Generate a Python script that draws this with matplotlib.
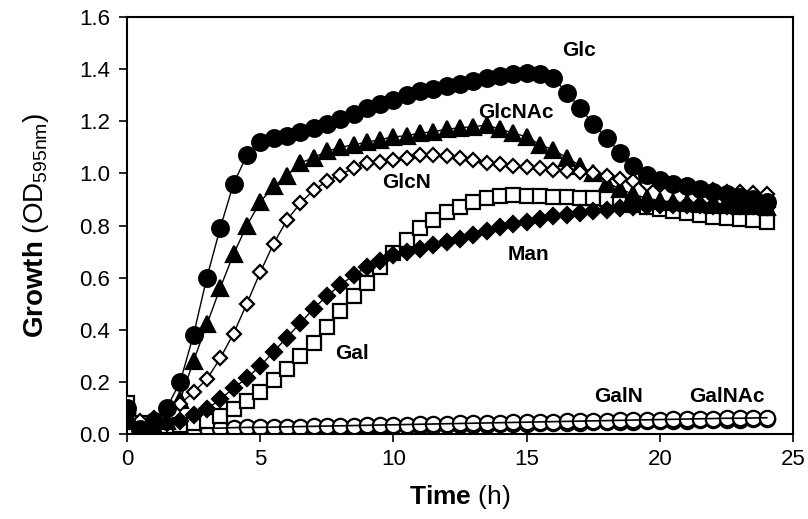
import numpy as np
import matplotlib
matplotlib.use("Agg")
import matplotlib.pyplot as plt

plt.rcParams['font.family'] = ['Liberation Sans Narrow', 'Liberation Sans', 'DejaVu Sans']
plt.rcParams['mathtext.fontset'] = 'custom'
plt.rcParams['mathtext.rm'] = 'Liberation Sans'
plt.rcParams['mathtext.bf'] = 'Liberation Sans:bold'

time_h = np.arange(0, 24.5, 0.5)

glc = [0.10, 0.02, 0.05, 0.10, 0.20, 0.38, 0.60, 0.79, 0.96, 1.07,
       1.12, 1.135, 1.145, 1.16, 1.175, 1.19, 1.21, 1.23, 1.25, 1.265,
       1.28, 1.30, 1.315, 1.325, 1.335, 1.345, 1.355, 1.365, 1.375, 1.38,
       1.385, 1.38, 1.365, 1.31, 1.25, 1.19, 1.135, 1.08, 1.03, 0.995,
       0.975, 0.96, 0.95, 0.94, 0.93, 0.92, 0.91, 0.90, 0.89]
glcnac = [0.05, 0.03, 0.03, 0.05, 0.13, 0.28, 0.42, 0.56, 0.69, 0.80,
          0.89, 0.95, 0.99, 1.04, 1.06, 1.085, 1.10, 1.11, 1.12, 1.13,
          1.14, 1.145, 1.155, 1.16, 1.17, 1.175, 1.18, 1.185, 1.17, 1.155,
          1.14, 1.11, 1.09, 1.06, 1.03, 1.00, 0.965, 0.94, 0.92, 0.905,
          0.895, 0.89, 0.885, 0.882, 0.88, 0.878, 0.876, 0.874, 0.872]
glcn = [0.10, 0.05, 0.06, 0.085, 0.115, 0.16, 0.21, 0.29, 0.385, 0.50,
        0.62, 0.73, 0.82, 0.885, 0.935, 0.97, 0.995, 1.02, 1.04, 1.045,
        1.05, 1.06, 1.07, 1.07, 1.065, 1.06, 1.05, 1.04, 1.035, 1.03,
        1.025, 1.02, 1.015, 1.01, 1.005, 1.0, 0.99, 0.98, 0.97, 0.96,
        0.955, 0.95, 0.945, 0.94, 0.935, 0.93, 0.93, 0.925, 0.92]
man = [0.08, 0.03, 0.03, 0.04, 0.05, 0.073, 0.095, 0.133, 0.175, 0.215,
       0.26, 0.315, 0.37, 0.425, 0.48, 0.53, 0.57, 0.61, 0.64, 0.665,
       0.685, 0.70, 0.71, 0.725, 0.738, 0.75, 0.764, 0.78, 0.795, 0.805,
       0.815, 0.825, 0.835, 0.842, 0.848, 0.855, 0.86, 0.866, 0.872, 0.876,
       0.878, 0.878, 0.878, 0.877, 0.876, 0.875, 0.874, 0.873, 0.872]
gal = [0.12, 0.04, 0.03, 0.03, 0.035, 0.04, 0.05, 0.07, 0.095, 0.125,
       0.16, 0.205, 0.25, 0.30, 0.35, 0.41, 0.47, 0.53, 0.58, 0.64,
       0.695, 0.745, 0.79, 0.82, 0.85, 0.872, 0.89, 0.905, 0.912, 0.917,
       0.915, 0.912, 0.91, 0.91, 0.907, 0.905, 0.90, 0.89, 0.88, 0.87,
       0.862, 0.855, 0.848, 0.84, 0.834, 0.83, 0.825, 0.82, 0.815]
galnac = [0.09, 0.02, 0.02, 0.02, 0.02, 0.02, 0.022, 0.022, 0.024, 0.025,
          0.025, 0.026, 0.027, 0.028, 0.029, 0.03, 0.031, 0.032, 0.033, 0.034,
          0.035, 0.036, 0.037, 0.038, 0.039, 0.04, 0.041, 0.042, 0.043, 0.044,
          0.045, 0.046, 0.047, 0.048, 0.049, 0.05, 0.051, 0.052, 0.053, 0.054,
          0.055, 0.056, 0.057, 0.058, 0.059, 0.06, 0.06, 0.061, 0.062]
galn = [0.08, 0.015, 0.012, 0.012, 0.013, 0.014, 0.015, 0.016, 0.017, 0.018,
        0.019, 0.02, 0.021, 0.022, 0.023, 0.024, 0.025, 0.026, 0.027, 0.028,
        0.029, 0.03, 0.031, 0.032, 0.033, 0.034, 0.035, 0.036, 0.037, 0.038,
        0.039, 0.04, 0.041, 0.042, 0.043, 0.044, 0.045, 0.046, 0.047, 0.048,
        0.049, 0.05, 0.051, 0.052, 0.053, 0.054, 0.055, 0.056, 0.057]

labels = ["Glc", "GlcNAc", "GlcN", "Man", "Gal", "GalN", "GalNAc"]
label_pos = [(16.95, 1.47), (14.6, 1.235), (10.5, 0.967), (15.05, 0.687),
             (8.45, 0.307), (18.45, 0.142), (22.5, 0.142)]

fig = plt.figure(figsize=(8.08, 5.19), dpi=100)
ax = fig.add_axes([0.157, 0.164, 0.825, 0.803])

lk = dict(color='black', lw=1.0, markeredgecolor='black', markeredgewidth=1.6)
ax.plot(time_h, galn, marker='o', ms=11, markerfacecolor='white', zorder=2, **lk)
ax.plot(time_h, galnac, marker='o', ms=11, markerfacecolor='white', zorder=2, **lk)
ax.plot(time_h, galnac, color='black', lw=1.2, zorder=2.5)
ax.plot(time_h, gal, marker='s', ms=10.5, markerfacecolor='white', zorder=3, **lk)
ax.plot(time_h, man, marker='D', ms=8.5, markerfacecolor='black', zorder=4, **lk)
ax.plot(time_h, glcnac, marker='^', ms=11.5, markerfacecolor='black', zorder=5, **lk)
ax.plot(time_h, glcn, marker='D', ms=7.5, markerfacecolor='white', zorder=6, **lk)
ax.plot(time_h, glc, marker='o', ms=12, markerfacecolor='black', zorder=7, **lk)

for txt, (x, y) in zip(labels, label_pos):
    ax.text(x, y, txt, ha='center', va='center', fontsize=15, fontweight='bold',
            family=['Liberation Sans', 'DejaVu Sans'], zorder=10)

ax.set_xlim(0, 25)
ax.set_ylim(0, 1.6)
ax.set_xticks([0, 5, 10, 15, 20, 25])
ax.set_yticks(np.arange(0, 1.61, 0.2))
ax.set_yticklabels([f"{v:.1f}" for v in np.arange(0, 1.61, 0.2)])
ax.tick_params(direction='out', length=6, width=1.2, labelsize=16, pad=5)
ax.tick_params(axis='y', pad=6)
for s in ax.spines.values():
    s.set_linewidth(1.5)

ax.set_xlabel(r"$\mathbf{Time}$ (h)", fontsize=19, labelpad=9,
              family=['Liberation Sans', 'DejaVu Sans'])
ax.set_ylabel(r"$\mathbf{Growth}$ (OD$_{\mathrm{595nm}}$)", fontsize=20, labelpad=20,
              family=['Liberation Sans', 'DejaVu Sans'])

fig.savefig("out.png", dpi=100)
